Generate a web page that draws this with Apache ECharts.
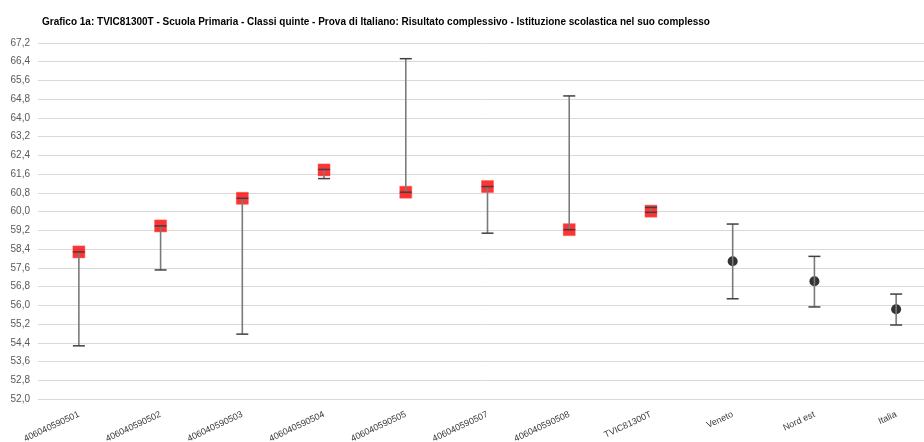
<!DOCTYPE html>
<html>
<head>
<meta charset="utf-8">
<script src="https://cdn.jsdelivr.net/npm/echarts@6/dist/echarts.min.js"></script>
<style>
html,body{margin:0;padding:0;background:#fff;}
#chart{width:924px;height:442px;}
</style>
</head>
<body>
<div id="chart"></div>
<script>
var titleText = 'Grafico 1a: TVIC81300T - Scuola Primaria - Classi quinte - Prova di Italiano: Risultato complessivo - Istituzione scolastica nel suo complesso';
var categories = ['406040590501','406040590502','406040590503','406040590504','406040590505','406040590507','406040590508','TVIC81300T','Veneto','Nord est','Italia'];
var schoolMeans = [58.28, 59.39, 60.57, 61.78, 60.83, 61.07, 59.23, 60.02, null, null, null];
var refMeans    = [null, null, null, null, null, null, null, null, 57.88, 57.03, 55.83];
var lowValues   = [54.27, 57.51, 54.77, 61.41, 60.83, 59.08, 59.23, 59.97, 56.28, 55.93, 55.16];
var highValues  = [58.28, 59.39, 60.57, 61.80, 66.53, 61.07, 64.94, 60.18, 59.47, 58.09, 56.48];
var yTicksMin = 52.0, yTicksMax = 67.2, yTickStep = 0.8;

var errData = categories.map(function(c, i){ return [i, lowValues[i], highValues[i]]; });

var chart = echarts.init(document.getElementById('chart'), null, {renderer:'canvas'});
chart.setOption({
  animation:false,
  backgroundColor:'#ffffff',
  title:{
    text:titleText, left:37, top:12,
    textStyle:{fontFamily:'Liberation Sans, Arial, sans-serif', fontSize:10, fontWeight:'bold', color:'#000'}
  },
  grid:{left:38, top:43, height:356, width:899, containLabel:false, outerBoundsMode:'none'},
  xAxis:{
    type:'category', data:categories, boundaryGap:true,
    axisLine:{show:false}, axisTick:{show:false},
    axisLabel:{rotate:25, interval:0, margin:15, fontSize:9, color:'#3a3a3a', fontFamily:'Liberation Sans, Arial, sans-serif'}
  },
  yAxis:{
    type:'value', min:yTicksMin, max:yTicksMax, interval:yTickStep,
    axisLine:{show:false}, axisTick:{show:false},
    splitLine:{lineStyle:{color:'#d9d9d9', width:1}},
    axisLabel:{margin:8, fontSize:10, color:'#595959', fontFamily:'Liberation Sans, Arial, sans-serif',
      formatter:function(v){ return v.toFixed(1).replace('.', ','); }}
  },
  series:[
    {
      type:'scatter', data:schoolMeans, symbol:'rect', symbolSize:12, z:2,
      itemStyle:{color:'#ff0000', borderColor:'rgba(255,80,80,0.6)', borderWidth:1}
    },
    {
      type:'scatter', data:refMeans, symbol:'circle', symbolSize:10, z:2,
      itemStyle:{color:'#000000'}
    },
    {
      type:'custom', z:5, data:errData,
      renderItem:function(params, api){
        var x = api.value(0);
        var lo = api.coord([x, api.value(1)]);
        var hi = api.coord([x, api.value(2)]);
        var hw = 6;
        return {
          type:'group',
          children:[
            {type:'line', shape:{x1:lo[0], y1:lo[1], x2:hi[0], y2:hi[1]}, style:{stroke:'#7a7a7a', lineWidth:1.6}},
            {type:'line', shape:{x1:lo[0]-hw, y1:lo[1], x2:lo[0]+hw, y2:lo[1]}, style:{stroke:'#404040', lineWidth:1.5}},
            {type:'line', shape:{x1:hi[0]-hw, y1:hi[1], x2:hi[0]+hw, y2:hi[1]}, style:{stroke:'#404040', lineWidth:1.5}}
          ]
        };
      }
    }
  ]
});
</script>
</body>
</html>
